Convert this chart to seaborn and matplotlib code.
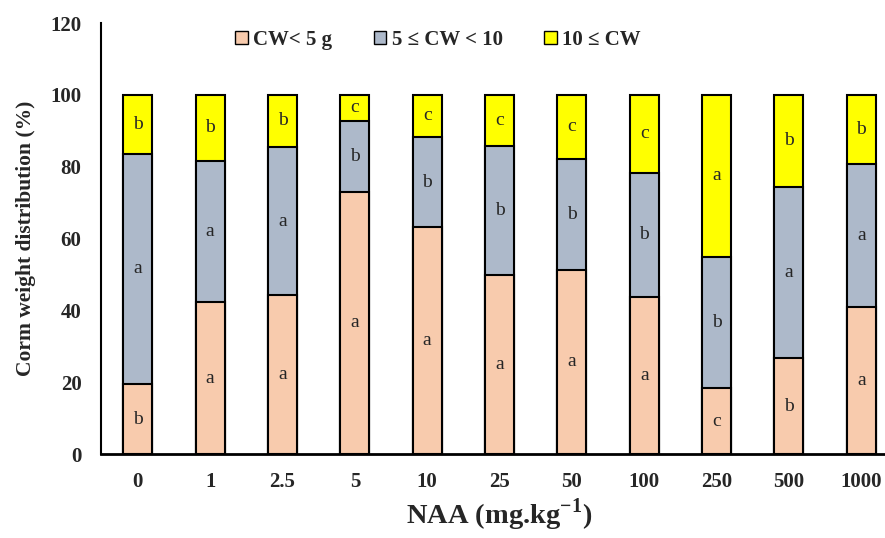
import numpy as np
import pandas as pd
import matplotlib
matplotlib.use("Agg")
import matplotlib.pyplot as plt
import seaborn as sns
from matplotlib.patches import Patch

# data (percent of corms per weight class)
naa = ['0', '1', '2.5', '5', '10', '25', '50', '100', '250', '500', '1000']
cw_small = [19.5, 42.3, 44.3, 73.0, 63.2, 49.9, 51.3, 43.7, 18.4, 26.7, 41.0]
cw_mid = [64.1, 39.3, 41.2, 19.8, 25.1, 35.9, 30.9, 34.7, 36.6, 47.8, 39.7]
cw_large = [16.4, 18.4, 14.5, 7.2, 11.7, 14.2, 17.8, 21.6, 45.0, 25.5, 19.3]

let_small = ['b', 'a', 'a', 'a', 'a', 'a', 'a', 'a', 'c', 'b', 'a']
let_mid = ['a', 'a', 'a', 'b', 'b', 'b', 'b', 'b', 'b', 'a', 'a']
let_large = ['b', 'b', 'b', 'c', 'c', 'c', 'c', 'c', 'a', 'b', 'b']

labels = ['CW< 5 g', '5 \u2264 CW < 10', '10 \u2264 CW']
colors = ['#F8CBAD', '#ADB9CA', '#FFFF00']

sns.set_style("white")
plt.rcParams['font.family'] = ['Liberation Serif', 'DejaVu Serif']
plt.rcParams['mathtext.fontset'] = 'custom'
plt.rcParams['mathtext.rm'] = 'Liberation Serif'
plt.rcParams['mathtext.bf'] = 'Liberation Serif:bold'

df = pd.DataFrame({'NAA': naa, 'small': cw_small, 'mid': cw_mid, 'large': cw_large})
df['top_small'] = df['small']
df['top_mid'] = df['small'] + df['mid']
df['top_large'] = df['top_mid'] + df['large']

fig = plt.figure(figsize=(8.85, 5.38), dpi=100)
ax = fig.add_axes([0.114, 0.156, 0.90, 0.801])

# stacked bars: draw cumulative tops from back to front
for col, c in zip(['top_large', 'top_mid', 'top_small'], colors[::-1]):
    sns.barplot(data=df, x='NAA', y=col, color=c, width=0.4,
                edgecolor='black', linewidth=1.5, ax=ax, saturation=1)

# letters in each segment
for i in range(len(naa)):
    segs = [(0, cw_small[i], let_small[i]),
            (cw_small[i], cw_mid[i], let_mid[i]),
            (cw_small[i] + cw_mid[i], cw_large[i], let_large[i])]
    for base, h, t in segs:
        ax.text(i, base + h / 2, t, ha='center', va='center', fontsize=14)

ax.set_xlim(-0.51, 10.5)
ax.set_ylim(0, 120)
ax.set_yticks(np.arange(0, 121, 20))
ax.tick_params(axis='both', length=0, labelsize=15)
ax.tick_params(axis='y', pad=14)
ax.tick_params(axis='x', pad=13)
for lab in ax.get_xticklabels() + ax.get_yticklabels():
    lab.set_fontweight('bold')

sns.despine(ax=ax, right=True, top=True)
ax.spines['left'].set_linewidth(1.5)
ax.spines['bottom'].set_linewidth(2)
ax.spines['left'].set_color('black')
ax.spines['bottom'].set_color('black')

ax.set_ylabel('Corm weight distribution (%)', fontsize=15.5, fontweight='bold', labelpad=10)
ax.set_xlabel(r'NAA (mg.kg$^{\mathbf{-1}}$)', fontsize=20.5, fontweight='bold', labelpad=3)

handles = [Patch(facecolor=c, edgecolor='black', linewidth=1) for c in colors]
fig.legend(handles, labels, loc='center', bbox_to_anchor=(0.495, 0.926), ncol=3,
           frameon=False, prop={'weight': 'bold', 'size': 15},
           handlelength=0.6, handleheight=0.6, handletextpad=0.25, columnspacing=2.0)

fig.savefig('out.png', dpi=100)
